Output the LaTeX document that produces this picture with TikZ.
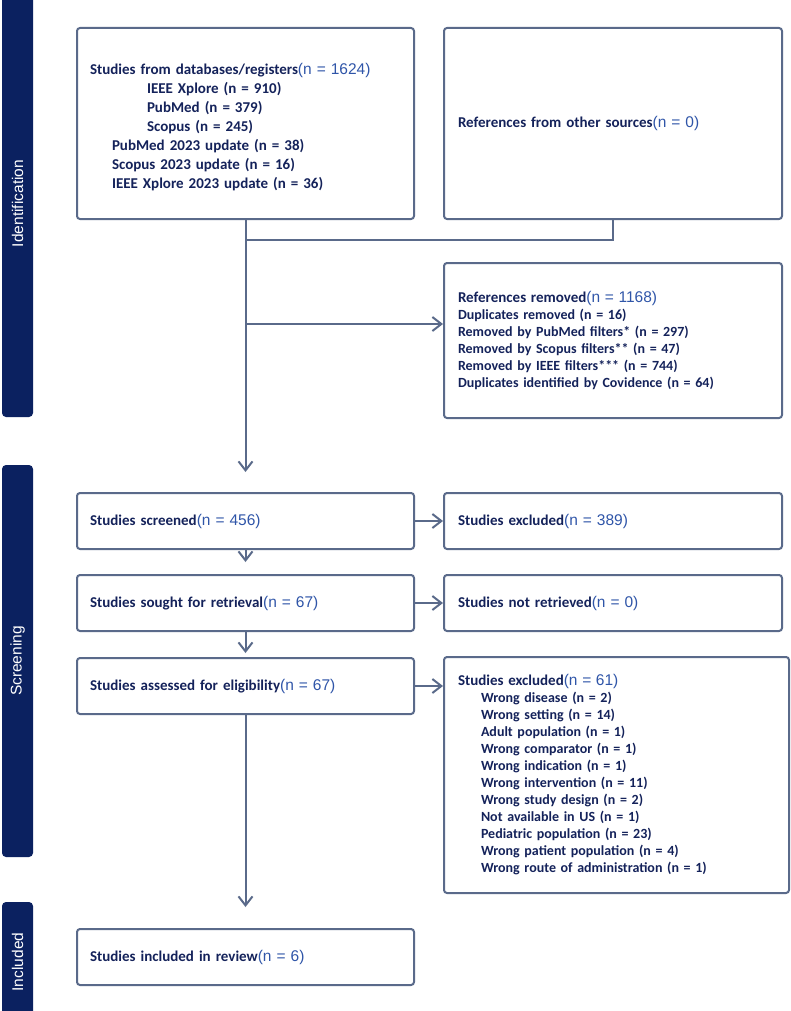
\documentclass[tikz,border=0pt]{standalone}
\usepackage{fontspec}
\setmainfont{Carlito}
\newfontfamily\arialf{Liberation Sans}
\usetikzlibrary{arrows.meta}
\definecolor{barnavy}{HTML}{0B2160}
\definecolor{txtnavy}{HTML}{14225A}
\definecolor{nblue}{HTML}{2F55A8}
\definecolor{edgegray}{HTML}{5A6A8A}
\newcommand{\bluen}[1]{{\arialf\mdseries\fontsize{15.5}{17}\selectfont\color{nblue}(#1)}}
\tikzset{
  box/.style={draw=edgegray, line width=2pt, rounded corners=3pt, anchor=north west,
    inner xsep=13pt, inner ysep=0pt, align=left, text=txtnavy, font=\bfseries\fontsize{15}{19}\selectfont},
  listbox/.style={box, font=\bfseries\fontsize{14}{17}\selectfont},
  conn/.style={draw=edgegray, line width=2pt},
  arr/.style={conn, -{Straight Barb[length=9pt,width=14pt,line width=2pt]}},
  sidebar/.style={fill=barnavy, rounded corners=4pt, rotate=90, minimum height=31pt,
    inner sep=0pt, text=white, font=\arialf\fontsize{15.5}{17}\selectfont}
}
\begin{document}
\begin{tikzpicture}[x=1pt,y=-1pt]
\useasboundingbox (0,0) rectangle (790,1011);
% side bars
\node[sidebar, minimum width=427pt] (sid) at (17.5,203.5) {Identification};
\node[sidebar, minimum width=392pt] (sscr) at (17.5,661) {Screening};
\node[sidebar, minimum width=120pt] (sinc) at (17.5,962) {Included};
% boxes
\node[box, minimum width=337pt, minimum height=191pt, text width=311pt] (b1) at (76,27)
  {\rule{0pt}{19pt}Studies from databases/registers\bluen{n = 1624}\\
   \hspace*{57pt}IEEE Xplore (n = 910)\\
   \hspace*{57pt}PubMed (n = 379)\\
   \hspace*{57pt}Scopus (n = 245)\\
   \hspace*{22pt}PubMed 2023 update (n = 38)\\
   \hspace*{22pt}Scopus 2023 update (n = 16)\\
   \hspace*{22pt}IEEE Xplore 2023 update (n = 36)};
\node[box, minimum width=338pt, minimum height=191pt, text width=310pt, inner xsep=14pt] (b2) at (443,27)
  {References from other sources\bluen{n = 0}};
\node[listbox, minimum width=338pt, minimum height=155pt, text width=310pt, inner xsep=14pt] (b3) at (443,262)
  {{\fontsize{15}{17}\selectfont References removed}\bluen{n = 1168}\\
   Duplicates removed (n = 16)\\
   Removed by PubMed filters* (n = 297)\\
   Removed by Scopus filters** (n = 47)\\
   Removed by IEEE filters*** (n = 744)\\
   Duplicates identified by Covidence (n = 64)};
\node[box, minimum width=337pt, minimum height=56pt, text width=311pt, inner xsep=12pt] (s1) at (76,492)
  {Studies screened\bluen{n = 456}};
\node[box, minimum width=338pt, minimum height=56pt, text width=310pt, inner xsep=14pt] (e1) at (443,492)
  {Studies excluded\bluen{n = 389}};
\node[box, minimum width=337pt, minimum height=56pt, text width=311pt, inner xsep=12pt] (s2) at (76,574)
  {Studies sought for retrieval\bluen{n = 67}};
\node[box, minimum width=338pt, minimum height=56pt, text width=310pt, inner xsep=14pt] (e2) at (443,574)
  {Studies not retrieved\bluen{n = 0}};
\node[box, minimum width=337pt, minimum height=56pt, text width=311pt, inner xsep=12pt] (s3) at (76,657)
  {Studies assessed for eligibility\bluen{n = 67}};
\node[listbox, minimum width=345pt, minimum height=236pt, text width=317pt, inner xsep=14pt] (e3) at (443,656)
  {{\fontsize{15}{17}\selectfont Studies excluded}\bluen{n = 61}\\
   \hspace*{23pt}Wrong disease (n = 2)\\
   \hspace*{23pt}Wrong setting (n = 14)\\
   \hspace*{23pt}Adult population (n = 1)\\
   \hspace*{23pt}Wrong comparator (n = 1)\\
   \hspace*{23pt}Wrong indication (n = 1)\\
   \hspace*{23pt}Wrong intervention (n = 11)\\
   \hspace*{23pt}Wrong study design (n = 2)\\
   \hspace*{23pt}Not available in US (n = 1)\\
   \hspace*{23pt}Pediatric population (n = 23)\\
   \hspace*{23pt}Wrong patient population (n = 4)\\
   \hspace*{23pt}Wrong route of administration (n = 1)};
\node[box, minimum width=337pt, minimum height=56pt, text width=311pt, inner xsep=13pt] (s4) at (76,928)
  {Studies included in review\bluen{n = 6}};
% connectors
\coordinate (join) at (b1.south |- 0,240);
\coordinate (branch) at (b1.south |- 0,324);
\draw[conn] (b2.south) |- (join);
\draw[conn] (b1.south) -- (join);
\draw[arr] (join) -- ([yshift=20pt]s1.north);
\draw[arr] (branch) -- (b3.west |- branch);
\draw[arr] (s1.east) -- (e1.west);
\draw[arr] (s2.east) -- (e2.west);
\draw[arr] (s3.east) -- (s3.east -| e3.west);
\draw[arr] (s1.south) -- ([yshift=12pt]s2.north);
\draw[arr] (s2.south) -- ([yshift=4pt]s3.north);
\draw[arr] (s3.south) -- ([yshift=21pt]s4.north);
\end{tikzpicture}
\end{document}
